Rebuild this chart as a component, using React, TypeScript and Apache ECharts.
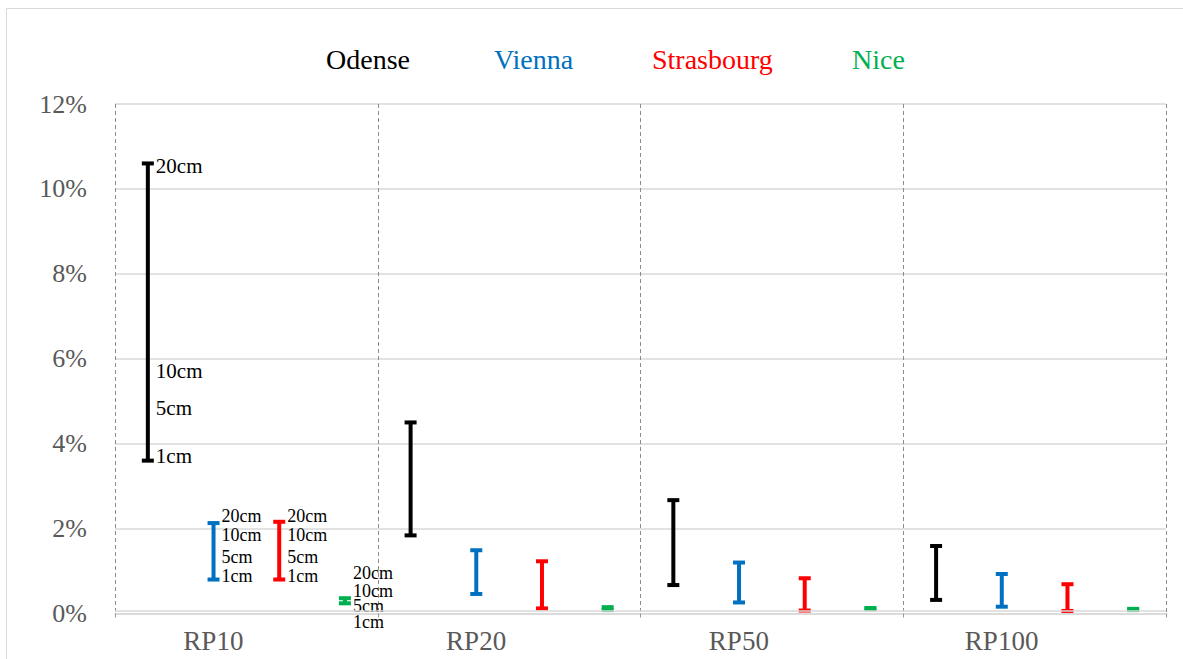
import React, { useEffect, useRef } from "react";
import * as echarts from "echarts";

const categories = ["RP10", "RP20", "RP50", "RP100"];
const cities = ["Odense", "Vienna", "Strasbourg", "Nice"];
const cityColors = ["#000000", "#0070C0", "#FF0000", "#00B050"];

// [low, high] in % for RP10, RP20, RP50, RP100
const odenseRange = [[3.6, 10.6], [1.84, 4.5], [0.67, 2.67], [0.32, 1.59]];
const viennaRange = [[0.8, 2.13], [0.46, 1.49], [0.26, 1.2], [0.16, 0.93]];
const strasbourgRange = [[0.8, 2.16], [0.12, 1.23], [0.07, 0.83], [0.06, 0.69]];
const niceRange = [[0.24, 0.36], [0.08, 0.15], [0.1, 0.13], [0.08, 0.11]];
const ranges = [odenseRange, viennaRange, strasbourgRange, niceRange];

// depth labels (RP10 only): [text, value %]
const depthTexts = ["20cm", "10cm", "5cm", "1cm"];
const odenseLabelValues = [10.55, 5.72, 4.83, 3.71];
const viennaLabelValues = [2.3, 1.85, 1.32, 0.88];
const strasbourgLabelValues = [2.3, 1.85, 1.32, 0.88];
const niceLabelValues = [0.95, 0.54, 0.18, -0.21];
const labelValues = [odenseLabelValues, viennaLabelValues, strasbourgLabelValues, niceLabelValues];

const yTicks = { min: 0, max: 12, interval: 2 };
const baseLineValue = 0.07;

const FONT = "Liberation Serif";
const legendLeft = [316, 484, 642, 842];

export default function App() {
  const ref = useRef<HTMLDivElement>(null);
  useEffect(() => {
    if (!ref.current) return;
    const chart = echarts.init(ref.current, undefined, { renderer: "svg" });

    const barSeries = cities.map((city, si) => ({
      type: "custom",
      name: city,
      data: ranges[si].map((r, ci) => [ci, r[0], r[1]]),
      clip: false,
      renderItem: (params: any, api: any) => {
        const cat = api.value(0);
        const lo = api.value(1);
        const hi = api.value(2);
        const band = api.size([1, 0])[0];
        const off = ((si - 1.5) * band) / 4;
        const pHi = api.coord([cat, hi]);
        const pLo = api.coord([cat, lo]);
        const x = pHi[0] + off;
        const st = { stroke: cityColors[si], lineWidth: 4 };
        const cap = 6;
        return {
          type: "group",
          children: [
            { type: "line", shape: { x1: x, y1: pHi[1], x2: x, y2: pLo[1] }, style: st },
            { type: "line", shape: { x1: x - cap, y1: pHi[1], x2: x + cap, y2: pHi[1] }, style: st },
            { type: "line", shape: { x1: x - cap, y1: pLo[1], x2: x + cap, y2: pLo[1] }, style: st },
          ],
        };
      },
      ...(si === 0
        ? {
            markLine: {
              silent: true,
              symbol: "none",
              label: { show: false },
              lineStyle: { color: "#d9d9d9", type: "solid", width: 1.5 },
              data: [{ yAxis: baseLineValue }],
            },
          }
        : {}),
    }));

    const labelSeries = cities.map((city, si) => ({
      type: "custom",
      name: city + " labels",
      data: labelValues[si].map((v, k) => [0, v, k]),
      clip: false,
      renderItem: (params: any, api: any) => {
        const cat = api.value(0);
        const v = api.value(1);
        const band = api.size([1, 0])[0];
        const off = ((si - 1.5) * band) / 4;
        const p = api.coord([cat, v]);
        return {
          type: "text",
          x: p[0] + off + 8,
          y: p[1],
          style: {
            text: depthTexts[params.dataIndex],
            fill: "#000",
            fontSize: si === 0 ? 21 : 18,
            fontFamily: FONT,
            align: "left",
            verticalAlign: "middle",
          },
        };
      },
    }));

    chart.setOption({
      animation: false,
      textStyle: { fontFamily: FONT },
      graphic: [
        {
          type: "rect",
          shape: { x: 6.5, y: 8.5, width: 1190, height: 700 },
          style: { fill: "none", stroke: "#d9d9d9", lineWidth: 1 },
          silent: true,
          z: -10,
        },
      ],
      legend: cities.map((c, i) => ({
        data: [{ name: c }],
        left: legendLeft[i],
        top: 40,
        itemWidth: 0,
        itemHeight: 0,
        itemStyle: { opacity: 0 },
        selectedMode: false,
        textStyle: { fontSize: 28, fontFamily: FONT, color: cityColors[i] },
      })),
      grid: { left: 115, right: 17, top: 104, bottom: 45.5 },
      xAxis: {
        type: "category",
        data: categories,
        boundaryGap: true,
        axisLine: { show: true, lineStyle: { color: "#d9d9d9", width: 1.5 } },
        axisTick: { show: true, length: 6, lineStyle: { color: "#999", type: [4, 3] } },
        splitLine: { show: true, lineStyle: { color: "#8c8c8c", type: [4, 3], width: 1 } },
        axisLabel: {
          fontSize: 27,
          fontFamily: FONT,
          color: "#595959",
          margin: 14,
          padding: [0, 66, 0, 0],
        },
      },
      yAxis: {
        type: "value",
        min: yTicks.min,
        max: yTicks.max,
        interval: yTicks.interval,
        axisLine: { show: false },
        axisTick: { show: false },
        splitLine: { lineStyle: { color: "#d9d9d9", width: 1.5 } },
        axisLabel: {
          formatter: "{value}%",
          fontSize: 26,
          fontFamily: FONT,
          color: "#595959",
          margin: 28,
        },
      },
      series: [...barSeries, ...labelSeries],
    });
    return () => chart.dispose();
  }, []);
  return (
    <div
      ref={ref}
      style={{ position: "fixed", left: 0, top: 0, width: 1183, height: 659, background: "#fff" }}
    />
  );
}
